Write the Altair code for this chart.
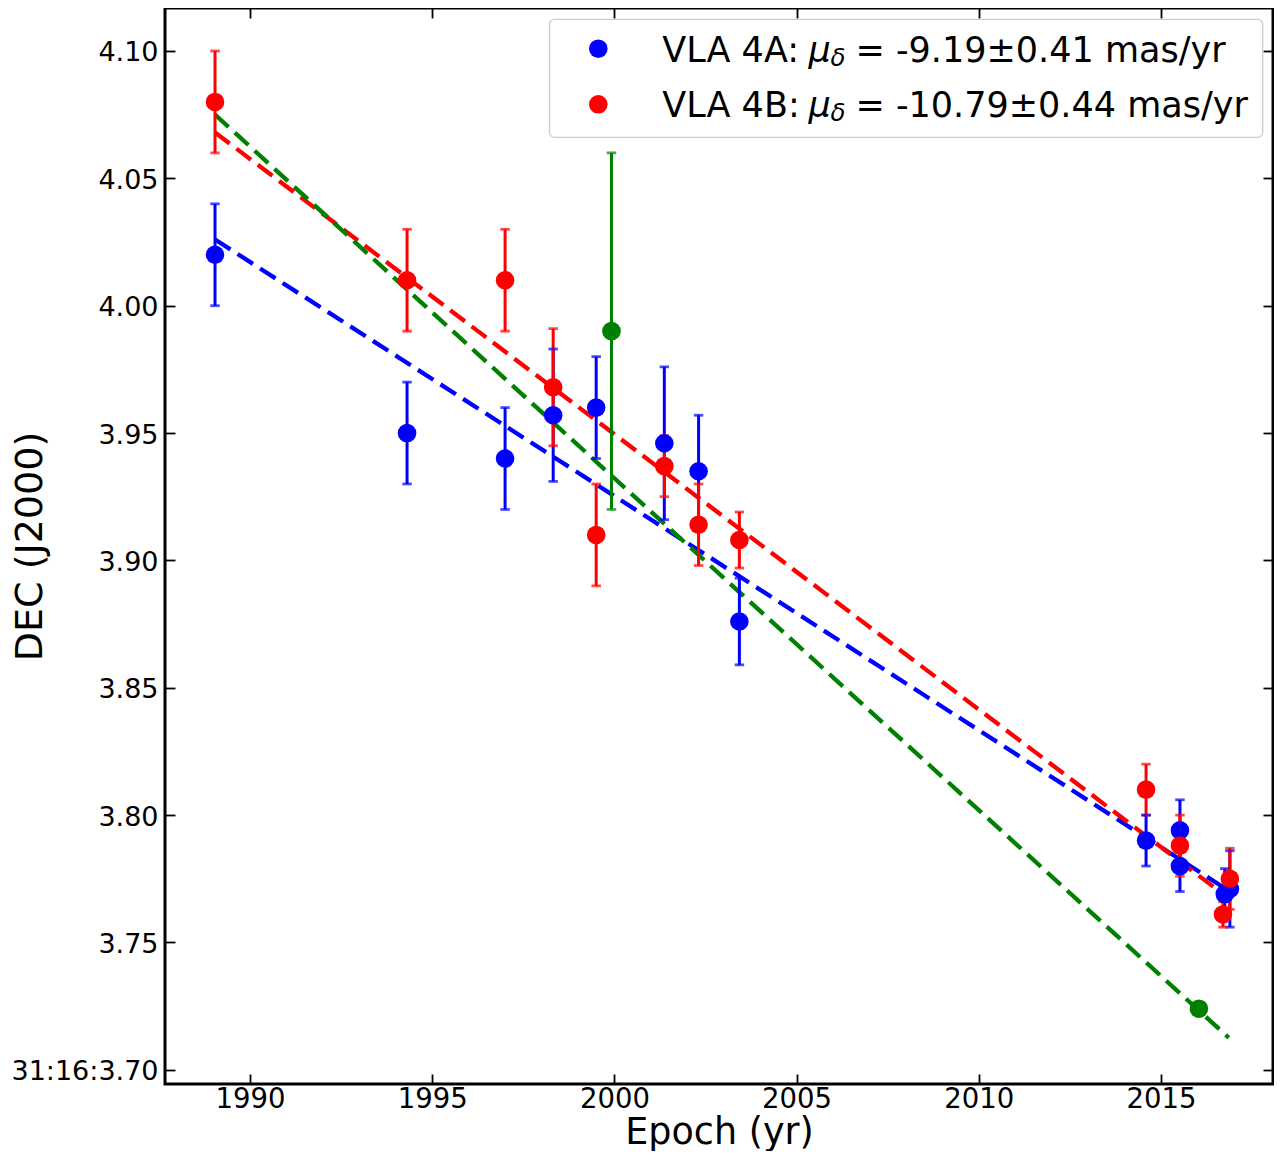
import altair as alt
import pandas as pd

# ---- data ----
ep_A = [1989.04, 1994.31, 1997.00, 1998.32, 1999.50, 2001.37, 2002.31, 2003.43,
        2014.59, 2015.52, 2015.52, 2016.75, 2016.89]
dec_A = [4.020, 3.950, 3.940, 3.957, 3.960, 3.946, 3.935, 3.876,
         3.790, 3.794, 3.780, 3.769, 3.771]
err_A = [0.020, 0.020, 0.020, 0.026, 0.020, 0.030, 0.022, 0.017,
         0.010, 0.012, 0.010, 0.010, 0.015]

ep_B = [1989.04, 1994.31, 1997.00, 1998.32, 1999.50, 2001.37, 2002.31, 2003.43,
        2014.59, 2015.52, 2016.70, 2016.89]
dec_B = [4.080, 4.010, 4.010, 3.968, 3.910, 3.937, 3.914, 3.908,
         3.810, 3.788, 3.761, 3.775]
err_B = [0.020, 0.020, 0.020, 0.023, 0.020, 0.012, 0.016, 0.011,
         0.010, 0.012, 0.005, 0.012]

ep_C = [1999.92, 2016.04]
dec_C = [3.990, 3.724]
err_C = [0.070, 0.0]

fit_ep_A = [1989.04, 2016.89]
fit_dec_A = [4.026, 3.770]
fit_ep_B = [1989.04, 2016.89]
fit_dec_B = [4.068, 3.767]
fit_ep_C = [1989.04, 2016.86]
fit_dec_C = [4.075, 3.7126]

x_ticks = [1990, 1995, 2000, 2005, 2010, 2015]
y_ticks = [3.70, 3.75, 3.80, 3.85, 3.90, 3.95, 4.00, 4.05, 4.10]

leg_labels = ["VLA 4A:", "VLA 4B:"]
leg_values = ["= -9.19\u00b10.41 mas/yr", "= -10.79\u00b10.44 mas/yr"]

src_names = ["A", "B", "C"]
src_colors = ["#0000ff", "#ff0000", "#008000"]

# ---- tables ----
def pts(src, ep, dec, err):
    return pd.DataFrame({
        "src": src, "epoch": ep, "dec": dec, "err": err,
        "lo": [d - e for d, e in zip(dec, err)],
        "hi": [d + e for d, e in zip(dec, err)],
    })

pts_df = pd.concat([pts("A", ep_A, dec_A, err_A),
                    pts("B", ep_B, dec_B, err_B),
                    pts("C", ep_C, dec_C, err_C)], ignore_index=True)
err_df = pts_df[pts_df["err"] > 0]

FONT = "DejaVu Sans"
W, H = 1108, 1076
xs = alt.Scale(domain=[1987.6674, 2018.0735], nice=False, zero=False)
ys = alt.Scale(domain=[3.69443, 4.11688], nice=False, zero=False)
color = alt.Color("src:N", scale=alt.Scale(domain=src_names, range=src_colors), legend=None)

bottom_axis = alt.Axis(
    orient="bottom", values=x_ticks, format="d", offset=-10, tickSize=10,
    tickWidth=1.8, tickColor="black", domain=False, grid=False,
    labelPadding=1, labelFontSize=27.5, labelFont=FONT, labelColor="black",
    labelFlush=False, labelOverlap=False,
    title="Epoch (yr)", titleFontSize=36.5, titleFont=FONT, titleFontWeight="normal",
    titleColor="black", titleBaseline="alphabetic", titleY=69,
)
left_axis = alt.Axis(
    orient="left", values=y_ticks, offset=-10, tickSize=10,
    tickWidth=1.8, tickColor="black", domain=False, grid=False,
    labelPadding=7, labelFontSize=27, labelFont=FONT, labelColor="black",
    labelFlush=False, labelOverlap=False, labelOffset=2,
    labelExpr="datum.value < 3.72 ? '31:16:3.70' : format(datum.value, '.2f')",
    title="DEC (J2000)", titleFontSize=38, titleFont=FONT, titleFontWeight="normal",
    titleColor="black", titleAngle=270, titleBaseline="alphabetic", titleX=-134,
)
top_axis = alt.Axis(
    orient="top", values=x_ticks, offset=-10, tickSize=10, tickWidth=1.8,
    tickColor="black", domain=False, grid=False, labels=False, title=None,
)
right_axis = alt.Axis(
    orient="right", values=y_ticks, offset=-10, tickSize=10, tickWidth=1.8,
    tickColor="black", domain=False, grid=False, labels=False, title=None,
)

XN = alt.X("epoch:Q", scale=xs, axis=None)

def fit_layer(ep, dec, col):
    df = pd.DataFrame({"epoch": ep, "dec": dec})
    return alt.Chart(df).mark_line(
        color=col, strokeWidth=4.3, strokeDash=[18.3, 8.5]
    ).encode(x=XN, y=alt.Y("dec:Q", scale=ys, axis=None))

lines = [fit_layer(fit_ep_A, fit_dec_A, src_colors[0]),
         fit_layer(fit_ep_B, fit_dec_B, src_colors[1]),
         fit_layer(fit_ep_C, fit_dec_C, src_colors[2])]

bars = alt.Chart(err_df).mark_rule(strokeWidth=3).encode(
    x=XN, y=alt.Y("lo:Q", scale=ys, axis=None), y2="hi:Q", color=color)
cap_lo = alt.Chart(err_df).mark_tick(orient="horizontal", size=9.5, thickness=2.8).encode(
    x=XN, y=alt.Y("lo:Q", scale=ys, axis=None), color=color)
cap_hi = alt.Chart(err_df).mark_tick(orient="horizontal", size=9.5, thickness=2.8).encode(
    x=XN, y=alt.Y("hi:Q", scale=ys, axis=None), color=color)

points = alt.Chart(pts_df).mark_circle(size=346, opacity=1).encode(
    x=alt.X("epoch:Q", scale=xs, axis=bottom_axis),
    y=alt.Y("dec:Q", scale=ys, axis=left_axis),
    color=color)

mirror = alt.Chart(pts_df).mark_circle(opacity=0).encode(
    x=alt.X("epoch:Q", scale=xs, axis=top_axis),
    y=alt.Y("dec:Q", scale=ys, axis=right_axis))

# ---- legend (drawn as annotation) ----
one = pd.DataFrame({"k": [0]})
leg_box = alt.Chart(one).mark_rect(
    fill="white", fillOpacity=0.8, stroke="#cccccc", strokeWidth=1.3, cornerRadius=5
).encode(x=alt.value(384.5), x2=alt.value(1097.7), y=alt.value(11.3), y2=alt.value(129.3))

legend_layers = [leg_box]
row_dot_y = [40.7, 96.3]
row_base_y = [53.7, 108.9]
for i in range(2):
    legend_layers.append(alt.Chart(one).mark_circle(size=346, opacity=1, color=src_colors[i]).encode(
        x=alt.value(433.3), y=alt.value(row_dot_y[i])))
    legend_layers.append(alt.Chart(one).mark_text(
        align="left", baseline="alphabetic", font=FONT, fontSize=35, color="black"
    ).encode(x=alt.value(497.3), y=alt.value(row_base_y[i]), text=alt.value(leg_labels[i])))
    legend_layers.append(alt.Chart(one).mark_text(
        align="left", baseline="alphabetic", font=FONT, fontSize=35, fontStyle="italic", color="black"
    ).encode(x=alt.value(643.5), y=alt.value(row_base_y[i]), text=alt.value("\u03bc")))
    legend_layers.append(alt.Chart(one).mark_text(
        align="left", baseline="alphabetic", font=FONT, fontSize=24.5, fontStyle="italic", color="black"
    ).encode(x=alt.value(665.5), y=alt.value(row_base_y[i] + 4.5), text=alt.value("\u03b4")))
    legend_layers.append(alt.Chart(one).mark_text(
        align="left", baseline="alphabetic", font=FONT, fontSize=35, color="black"
    ).encode(x=alt.value(690.5), y=alt.value(row_base_y[i]), text=alt.value(leg_values[i])))

chart = alt.layer(
    *lines, bars, cap_lo, cap_hi, points, mirror, *legend_layers
).resolve_axis(x="independent", y="independent").properties(
    width=W, height=H,
    autosize=alt.AutoSizeParams(type="none"),
    padding={"left": 157, "top": 0, "right": 1, "bottom": 67},
    background="white",
).configure_view(stroke="black", strokeWidth=3)

chart.save("out.html", embed_options={"renderer": "svg", "actions": False})
